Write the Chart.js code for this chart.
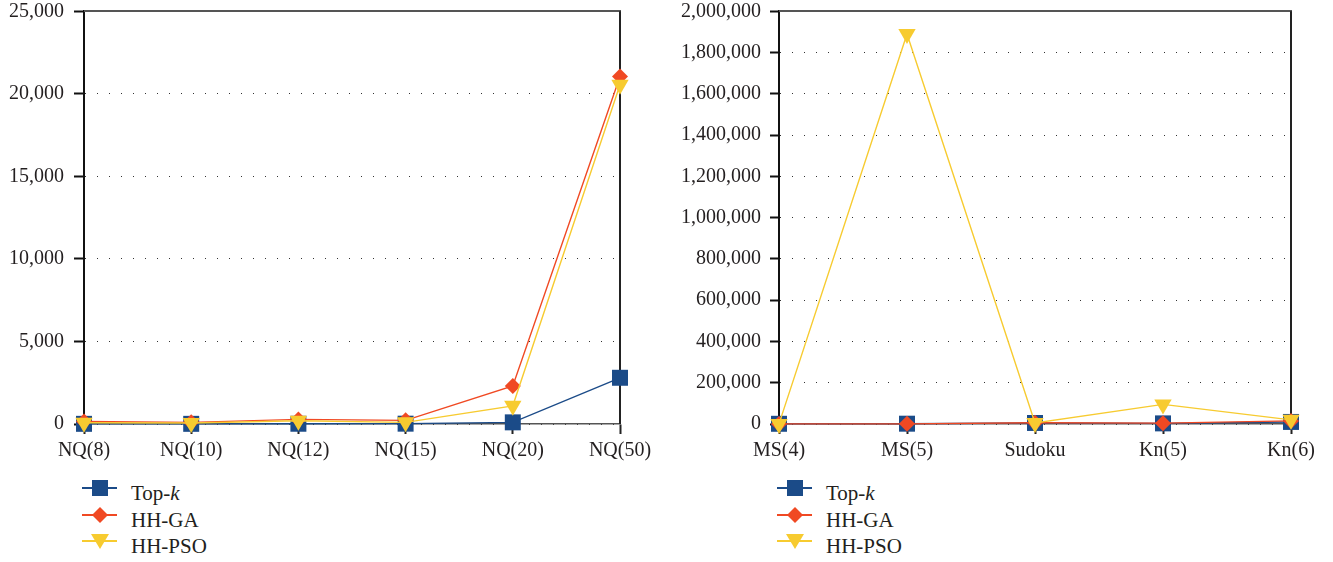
<!DOCTYPE html>
<html>
<head>
<meta charset="utf-8">
<script src="https://cdn.jsdelivr.net/npm/chart.js@4/dist/chart.umd.min.js"></script>
<style>
  html, body { margin: 0; padding: 0; background: #fff; }
  body { width: 1333px; height: 562px; position: relative; overflow: hidden;
         font-family: 'Liberation Serif', 'Times New Roman', serif; color: #231f20; }
  .box { position: absolute; top: 0; height: 470px; }
  .legend { position: absolute; font-size: 21px; line-height: 21px; }
  .legend .row { position: absolute; left: 0; height: 20px; white-space: nowrap; }
  .legend svg { position: absolute; left: 0; top: -8px; }
  .legend span { position: absolute; top: 0; }
</style>
</head>
<body>
<div class="box" id="leftBox" style="left:0;width:660px;"><canvas id="leftChart"></canvas></div>
<div class="box" id="rightBox" style="left:660px;width:673px;"><canvas id="rightChart"></canvas></div>
<div class="legend" id="leftLegend" style="left:82px;top:486px;"></div>
<div class="legend" id="rightLegend" style="left:777px;top:486px;"></div>
<script>
// N-Queens problem sizes
const leftCategories = ['NQ(8)', 'NQ(10)', 'NQ(12)', 'NQ(15)', 'NQ(20)', 'NQ(50)'];
const leftTopK  = [10, 10, 15, 20, 100, 2800];
const leftHHGA  = [150, 100, 280, 220, 2300, 21050];
const leftHHPSO = [80, 60, 200, 100, 1100, 20550];
const leftYTicks = [0, 5000, 10000, 15000, 20000, 25000];

// Magic square, Sudoku and knight's tour problems
const rightCategories = ['MS(4)', 'MS(5)', 'Sudoku', 'Kn(5)', 'Kn(6)'];
const rightTopK  = [1000, 1500, 5000, 3000, 10000];
const rightHHGA  = [500, 800, 6000, 4000, 15000];
const rightHHPSO = [500, 1890000, 5000, 95000, 20000];
const rightYTicks = [0, 200000, 400000, 600000, 800000, 1000000, 1200000, 1400000, 1600000, 1800000, 2000000];

const seriesNames = ['Top-k', 'HH-GA', 'HH-PSO'];

const FONT = "'Liberation Serif', 'Times New Roman', serif";
const INK = '#231f20';
const styles = [
  { color: '#1b4b88', point: 'rect', radius: 11.3, order: 3 },
  { color: '#f04923', point: 'rectRot', radius: 8, order: 2 },
  { color: '#f7cb30', point: 'triangle', radius: 10, rotation: 180, order: 1 }
];

// Draws the top edge and the right edge of the plot frame
const framePlugin = {
  id: 'frame',
  beforeDatasetsDraw(chart) {
    const { ctx, chartArea: a } = chart;
    ctx.save();
    ctx.lineWidth = 2;
    ctx.strokeStyle = '#555';
    ctx.beginPath();
    ctx.moveTo(a.left, Math.round(a.top));
    ctx.lineTo(a.right + 1, Math.round(a.top));
    ctx.stroke();
    ctx.strokeStyle = '#222';
    ctx.beginPath();
    ctx.moveTo(Math.round(a.right), a.top);
    ctx.lineTo(Math.round(a.right), a.bottom);
    ctx.stroke();
    ctx.restore();
  }
};

function makeChart(id, categories, series, yTicks, yWidth, tickLen, padRight) {
  const datasets = series.map((values, i) => ({
    label: seriesNames[i],
    data: values,
    borderColor: styles[i].color,
    backgroundColor: styles[i].color,
    borderWidth: 1.4,
    pointStyle: styles[i].point,
    pointRadius: styles[i].radius,
    pointHoverRadius: styles[i].radius,
    pointRotation: styles[i].rotation || 0,
    pointBorderWidth: 0,
    pointBackgroundColor: styles[i].color,
    tension: 0,
    clip: false,
    order: styles[i].order
  }));
  return new Chart(document.getElementById(id), {
    type: 'line',
    data: { labels: categories, datasets },
    plugins: [framePlugin],
    options: {
      responsive: true,
      maintainAspectRatio: false,
      animation: false,
      events: [],
      layout: { padding: { left: 0, top: 11, right: padRight, bottom: 6 } },
      plugins: { legend: { display: false }, tooltip: { enabled: false } },
      scales: {
        x: {
          offset: false,
          grid: { display: true, drawOnChartArea: false, drawTicks: true, tickLength: 10,
                  tickColor: '#222', tickWidth: 2 },
          border: { display: true, color: '#555', width: 1.5 },
          ticks: { color: INK, font: { family: FONT, size: 20 }, padding: 5, maxRotation: 0, autoSkip: false },
          afterFit(s) { s.height = 40; s.paddingLeft = 0; s.paddingRight = 0; }
        },
        y: {
          min: yTicks[0],
          max: yTicks[yTicks.length - 1],
          afterBuildTicks(s) { s.ticks = yTicks.map(v => ({ value: v })); },
          grid: { color: '#333', lineWidth: 1, drawTicks: true, tickLength: tickLen,
                  tickColor: '#111', tickWidth: 2 },
          border: { display: true, color: '#111', width: 2, dash: [1, 11] },
          ticks: { color: INK, font: { family: FONT, size: 20 }, padding: tickLen,
                   callback: v => Number(v).toLocaleString('en-US') },
          afterFit(s) { s.width = yWidth; s.paddingTop = 0; s.paddingBottom = 0; }
        }
      }
    }
  });
}

makeChart('leftChart', leftCategories, [leftTopK, leftHHGA, leftHHPSO], leftYTicks, 84, 10, 40);
makeChart('rightChart', rightCategories, [rightTopK, rightHHGA, rightHHPSO], rightYTicks, 119, 9, 42);

// Legend with line-and-marker keys
function markerSvg(i) {
  const c = styles[i].color;
  let shape;
  if (i === 0) shape = `<rect x="10" y="2" width="16" height="16" fill="${c}"/>`;
  else if (i === 1) shape = `<polygon points="18,2 26,10 18,18 10,10" fill="${c}"/>`;
  else shape = `<polygon points="9,3 27,3 18,18" fill="${c}"/>`;
  return `<svg width="36" height="20" viewBox="0 0 36 20"><line x1="0" y1="10" x2="35" y2="10" stroke="${c}" stroke-width="2"/>${shape}</svg>`;
}
function buildLegend(id) {
  const el = document.getElementById(id);
  seriesNames.forEach((name, i) => {
    const row = document.createElement('div');
    row.className = 'row';
    row.style.top = (i * 26.5) + 'px';
    const text = name.replace(/-k$/, '-<i>k</i>');
    row.innerHTML = markerSvg(i) + `<span style="left:49px;top:-3px;">${text}</span>`;
    el.appendChild(row);
  });
}
buildLegend('leftLegend');
buildLegend('rightLegend');
</script>
</body>
</html>
